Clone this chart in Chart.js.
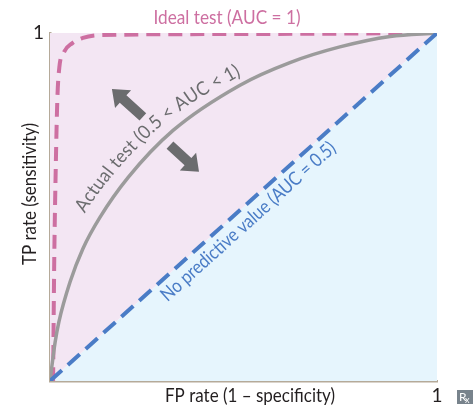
<!DOCTYPE html>
<html>
<head>
<meta charset="utf-8">
<script src="https://cdn.jsdelivr.net/npm/chart.js@4.4.1/dist/chart.umd.min.js"></script>
<style>
  html, body { margin: 0; padding: 0; background: #fff; }
  #wrap { width: 475px; height: 407px; position: relative; }
</style>
</head>
<body>
<div id="wrap"><canvas id="roc"></canvas></div>
<script>
// curve data (FP rate vs TP rate)
const diagX = [0, 1];
const diagY = [0, 1];
const actualX = [0, 0.013, 0.023, 0.052, 0.085, 0.129, 0.202, 0.318, 0.491, 0.620, 0.749, 0.879, 1];
const actualY = [0, 0.110, 0.170, 0.285, 0.380, 0.470, 0.585, 0.720, 0.850, 0.915, 0.960, 0.990, 1];
const idealX = [0.008, 0.011, 0.015, 0.019, 0.024, 0.036, 0.058, 0.085, 0.129, 0.491, 1];
const idealY = [0, 0.35, 0.62, 0.81, 0.90, 0.945, 0.971, 0.986, 0.994, 0.997, 1];

// arrows either side of the actual curve (from -> to)
const arrowFrom = [[0.240, 0.759], [0.310, 0.678]];
const arrowTo = [[0.160, 0.839], [0.385, 0.601]];

const FONT = "Lato, 'Open Sans', sans-serif";
const PINK = '#cd6fa1';
const BLUE = '#4a7cc6';
const GREY = '#9b9b9b';
const DARK = '#6b6c6e';

function pts(xs, ys) {
  return xs.map((v, i) => ({ x: v, y: ys[i] }));
}

// draw text squeezed to a given width (the original uses a condensed face)
function fitText(ctx, text, x, y, width) {
  const w = ctx.measureText(text).width;
  ctx.save();
  ctx.translate(x, y);
  ctx.scale(width / w, 1);
  ctx.fillText(text, 0, 0);
  ctx.restore();
}

function drawArrow(ctx, x0, y0, x1, y1) {
  const dx = x1 - x0, dy = y1 - y0;
  const len = Math.hypot(dx, dy);
  const ux = dx / len, uy = dy / len;
  const nx = -uy, ny = ux;
  const sw = 5, hw = 12, hl = 15;
  const bx = x1 - ux * hl, by = y1 - uy * hl;
  ctx.beginPath();
  ctx.moveTo(x0 + nx * sw, y0 + ny * sw);
  ctx.lineTo(bx + nx * sw, by + ny * sw);
  ctx.lineTo(bx + nx * hw, by + ny * hw);
  ctx.lineTo(x1, y1);
  ctx.lineTo(bx - nx * hw, by - ny * hw);
  ctx.lineTo(bx - nx * sw, by - ny * sw);
  ctx.lineTo(x0 - nx * sw, y0 - ny * sw);
  ctx.closePath();
  ctx.fill();
}

// write text along the rendered bezier of a dataset
function textOnCurve(ctx, meta, text, start, width, off0, off1) {
  const els = meta.data;
  const path = [];
  for (let i = 0; i < els.length - 1; i++) {
    const a = els[i], b = els[i + 1];
    for (let k = 0; k < 30; k++) {
      const t = k / 30, m = 1 - t;
      path.push({
        x: m*m*m*a.x + 3*m*m*t*a.cp2x + 3*m*t*t*b.cp1x + t*t*t*b.x,
        y: m*m*m*a.y + 3*m*m*t*a.cp2y + 3*m*t*t*b.cp1y + t*t*t*b.y
      });
    }
  }
  path.push({ x: els[els.length-1].x, y: els[els.length-1].y });
  const cum = [0];
  for (let i = 1; i < path.length; i++) {
    cum.push(cum[i-1] + Math.hypot(path[i].x - path[i-1].x, path[i].y - path[i-1].y));
  }
  function at(s) {
    let i = 1;
    while (i < cum.length - 1 && cum[i] < s) i++;
    const f = (s - cum[i-1]) / ((cum[i] - cum[i-1]) || 1);
    return { x: path[i-1].x + f * (path[i].x - path[i-1].x), y: path[i-1].y + f * (path[i].y - path[i-1].y) };
  }
  const sx = width / ctx.measureText(text).width;
  let s = start;
  for (const ch of text) {
    const w = ctx.measureText(ch).width * sx;
    const mid = s + w / 2;
    const off = off0 + (off1 - off0) * (s - start) / width;
    const a = at(mid - 12), b = at(mid + 12), c = at(mid);
    const ang = Math.atan2(b.y - a.y, b.x - a.x);
    ctx.save();
    ctx.translate(c.x + Math.sin(ang) * off, c.y - Math.cos(ang) * off);
    ctx.rotate(ang);
    ctx.scale(sx, 1);
    ctx.fillText(ch, -w / 2 / sx, 0);
    ctx.restore();
    s += w;
  }
}

const labelsPlugin = {
  id: 'rocLabels',
  afterDatasetsDraw(chart) {
    const { ctx, chartArea: area, scales: { x, y } } = chart;
    ctx.save();

    // arrows
    ctx.fillStyle = DARK;
    arrowFrom.forEach((f, i) => {
      drawArrow(ctx, x.getPixelForValue(f[0]), y.getPixelForValue(f[1]),
        x.getPixelForValue(arrowTo[i][0]), y.getPixelForValue(arrowTo[i][1]));
    });

    ctx.textBaseline = 'alphabetic';

    // ticks + axis titles
    ctx.fillStyle = '#231f20';
    ctx.font = `19px ${FONT}`;
    ctx.textAlign = 'right';
    ctx.fillText('1', area.left - 6, y.getPixelForValue(1) + 6);
    ctx.textAlign = 'center';
    ctx.fillText('1', x.getPixelForValue(1), area.bottom + 21);
    fitText(ctx, 'FP rate (1 \u2013 specificity)', area.left + 200, area.bottom + 21, 170);
    ctx.save();
    ctx.translate(area.left - 14, area.top + 161);
    ctx.rotate(-Math.PI / 2);
    fitText(ctx, 'TP rate (sensitivity)', 0, 0, 142);
    ctx.restore();

    // ideal test title
    ctx.fillStyle = PINK;
    ctx.font = `20px ${FONT}`;
    fitText(ctx, 'Ideal test (AUC = 1)', area.left + 177, area.top - 9, 147);

    // diagonal label
    ctx.font = `19px ${FONT}`;
    const p0x = x.getPixelForValue(diagX[0]), p0y = y.getPixelForValue(diagY[0]);
    const p1x = x.getPixelForValue(diagX[1]), p1y = y.getPixelForValue(diagY[1]);
    ctx.save();
    ctx.translate(p0x, p0y);
    ctx.rotate(Math.atan2(p1y - p0y, p1x - p0x));
    ctx.textAlign = 'left';
    ctx.fillStyle = BLUE;
    fitText(ctx, 'No predictive value (AUC = 0.5)', 140, 20, 228);
    ctx.restore();

    // actual test label along the curve
    ctx.textAlign = 'left';
    ctx.fillStyle = DARK;
    textOnCurve(ctx, chart.getDatasetMeta(1), 'Actual test (0.5 < AUC < 1)', 168, 205, 15, 8);

    // Rx badge
    ctx.fillStyle = '#78838c';
    ctx.fillRect(457, 390, 16, 14);
    ctx.fillStyle = '#fff';
    ctx.font = `12px ${FONT}`;
    ctx.fillText('R', 459, 401);
    ctx.font = `9px ${FONT}`;
    ctx.fillText('x', 465, 403);

    ctx.restore();
  }
};

new Chart(document.getElementById('roc'), {
  type: 'line',
  data: {
    datasets: [
      { // ideal
        data: pts(idealX, idealY),
        borderColor: PINK, borderWidth: 4, borderDash: [14, 8],
        pointRadius: 0, cubicInterpolationMode: 'monotone', fill: false, order: 2
      },
      { // actual
        data: pts(actualX, actualY),
        borderColor: GREY, borderWidth: 3.5,
        pointRadius: 0, cubicInterpolationMode: 'monotone', fill: false, order: 1
      },
      { // no predictive value
        data: pts(diagX, diagY),
        borderColor: BLUE, borderWidth: 4, borderDash: [16, 8],
        pointRadius: 0, fill: false, order: 0
      },
      { // area above diagonal
        data: pts(diagX, diagY),
        borderWidth: 0, pointRadius: 0,
        backgroundColor: '#f3e6f3', fill: 'end', order: 5
      },
      { // area below diagonal
        data: pts(diagX, diagY),
        borderWidth: 0, pointRadius: 0,
        backgroundColor: '#e6f5fd', fill: 'start', order: 6
      }
    ]
  },
  options: {
    responsive: true,
    maintainAspectRatio: false,
    animation: false,
    layout: { padding: { left: 50, right: 38, top: 33, bottom: 26 } },
    plugins: { legend: { display: false }, tooltip: { enabled: false } },
    scales: {
      x: {
        type: 'linear', min: 0, max: 1, z: 1,
        ticks: { display: false }, grid: { display: false, drawTicks: false },
        border: { display: true, color: '#b5aa99', width: 2.5 }
      },
      y: {
        type: 'linear', min: 0, max: 1, z: 1,
        ticks: { display: false }, grid: { display: false, drawTicks: false },
        border: { display: true, color: '#b5aa99', width: 2.5 }
      }
    }
  },
  plugins: [labelsPlugin]
});
</script>
</body>
</html>
